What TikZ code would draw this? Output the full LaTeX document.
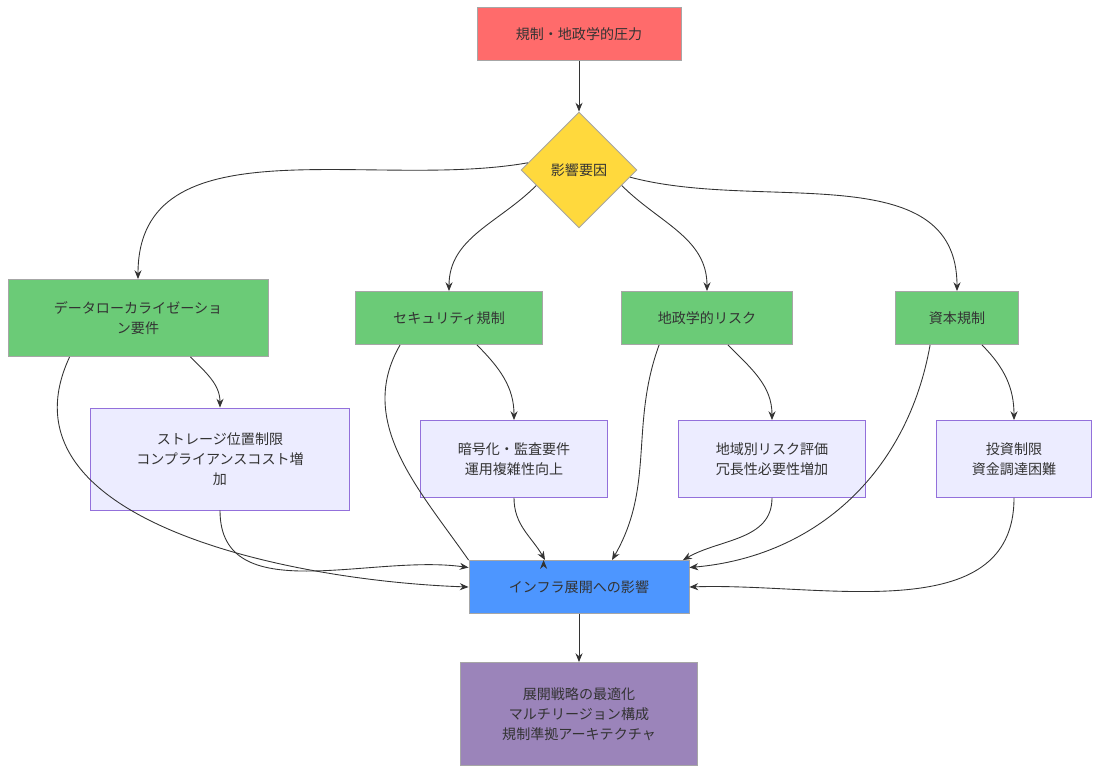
\documentclass[tikz,border=0pt]{standalone}
\usepackage{fontspec}
\setmainfont{Noto Sans CJK JP}
\usetikzlibrary{shapes.geometric,arrows.meta}
\definecolor{cred}{HTML}{FF6B6B}
\definecolor{cyel}{HTML}{FFD93D}
\definecolor{cgrn}{HTML}{6BCB77}
\definecolor{cblu}{HTML}{4D96FF}
\definecolor{cpur}{HTML}{9B84BA}
\definecolor{clav}{HTML}{ECECFF}
\definecolor{clavb}{HTML}{9370DB}
\tikzset{
  box/.style={draw=gray!70, line width=0.5pt, align=center, inner sep=0pt,
    font=\fontsize{8}{11.5}\selectfont, text=black!80},
  sub/.style={box, fill=clav, draw=clavb},
  link/.style={draw=black!80, line width=0.5pt, -{Stealth[length=5pt,width=4pt]}}
}
\begin{document}
\begin{tikzpicture}[x=0.02cm, y=-0.02cm]
\useasboundingbox (0,0) rectangle (1101,774);
\node[box, fill=cred, minimum width=4.08cm, minimum height=1.06cm] (press) at (579,34) {規制・地政学的圧力};
\node[box, fill=cyel, diamond, minimum width=2.32cm, minimum height=2.32cm] (factor) at (579,170) {影響要因};
\node[box, fill=cgrn, minimum width=5.2cm, minimum height=1.54cm] (data) at (138,318) {データローカライゼーショ\\ン要件};
\node[box, fill=cgrn, minimum width=3.74cm, minimum height=1.06cm] (sec) at (449,318) {セキュリティ規制};
\node[box, fill=cgrn, minimum width=3.42cm, minimum height=1.06cm] (geo) at (707,318) {地政学的リスク};
\node[box, fill=cgrn, minimum width=2.46cm, minimum height=1.06cm] (cap) at (957,318) {資本規制};
\node[sub, minimum width=5.18cm, minimum height=2.04cm] (store) at (220,459) {ストレージ位置制限\\コンプライアンスコスト増\\加};
\node[sub, minimum width=3.74cm, minimum height=1.54cm] (enc) at (514,459) {暗号化・監査要件\\運用複雑性向上};
\node[sub, minimum width=3.74cm, minimum height=1.54cm] (reg) at (772,459) {地域別リスク評価\\冗長性必要性増加};
\node[sub, minimum width=3.1cm, minimum height=1.54cm] (inv) at (1014,459) {投資制限\\資金調達困難};
\node[box, fill=cblu, minimum width=4.4cm, minimum height=1.06cm] (infra) at (579,587) {インフラ展開への影響};
\node[box, fill=cpur, minimum width=4.74cm, minimum height=2.06cm] (opt) at (579,714) {展開戦略の最適化\\マルチリージョン構成\\規制準拠アーキテクチャ};

\draw[link] (press) -- (factor);
\draw[link] (factor.172) to[out=190,in=90] (data.north);
\draw[link] (factor.200) to[out=225,in=90] (sec.north);
\draw[link] (factor.-20) to[out=-45,in=90] (geo.north);
\draw[link] (factor.-8) to[out=-15,in=90] (cap.north);
% second row
\draw[link] (data.south east) ++(-78,0) to[out=-45,in=90] (store.north);
\draw[link] (sec.south east) ++(-66,0) to[out=-45,in=90] (enc.north);
\draw[link] (geo.south east) ++(-65,0) to[out=-45,in=90] (reg.north);
\draw[link] (cap.south east) ++(-37,0) to[out=-45,in=90] (inv.north);
% towards infra
\draw[link] (data.south west) ++(62,0) to[out=-115,in=178] (infra.west);
\draw[link] (store.south) to[out=-90,in=172] (infra.170);
\draw[link] (sec.south west) ++(45,0) to[out=-120,in=125] (infra.north west) ++(75,0);
\draw[link] (enc.south) to[out=-90,in=120] ([xshift=-0.68cm]infra.north);
\draw[link] (geo.south west) ++(38,0) to[out=-110,in=60] ([xshift=0.66cm]infra.north);
\draw[link] (reg.south) to[out=-90,in=30] ([xshift=2.08cm]infra.north);
\draw[link] (cap.south west) ++(35,0) to[out=-100,in=5] (infra.10);
\draw[link] (inv.south) to[out=-90,in=2] (infra.east);
\draw[link] (infra) -- (opt);
\end{tikzpicture}
\end{document}
